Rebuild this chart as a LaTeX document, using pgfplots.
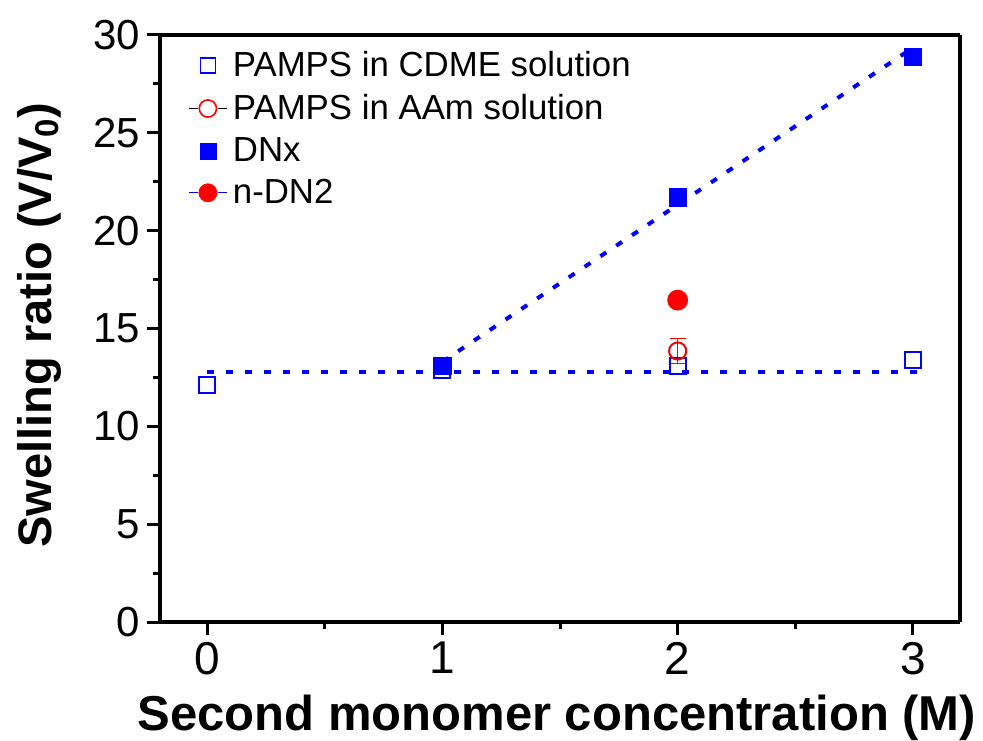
\documentclass[border=0pt]{standalone}
\usepackage{fontspec}
\setmainfont{Liberation Sans}
\usepackage{pgfplots}
\pgfplotsset{compat=1.18}
\begin{document}
\begin{tikzpicture}
\begin{axis}[
  width=400pt, height=293.5pt, scale only axis,
  xmin=-0.2, xmax=3.2, ymin=0, ymax=30,
  xtick={0,1,2,3}, ytick={0,5,...,30},
  minor x tick num=1, minor y tick num=1,
  xtick pos=bottom, ytick pos=left,
  tick align=outside,
  major tick length=6.5pt, minor tick length=3.5pt,
  separate axis lines,
  axis line style={line width=1.8pt},
  every tick/.style={black, line width=1.5pt},
  /pgf/number format/assume math mode=true,
  xticklabel style={font=\fontsize{23}{26}\selectfont},
  yticklabel style={font=\fontsize{21}{24}\selectfont},
  xlabel={\textbf{Second monomer concentration (M)}},
  ylabel={\textbf{Swelling ratio (V/V\textsubscript{0})}},
  xlabel style={font=\fontsize{24.5}{28}\selectfont, at={(axis description cs:0.496,-0.184)}, anchor=base},
  ylabel style={font=\fontsize{23.5}{28}\selectfont, at={(axis description cs:-0.136,0.506)}, anchor=base},
  legend style={draw=none, fill=none, at={(rel axis cs:0,1)}, anchor=north west,
    xshift=11pt, yshift=-4pt, font=\fontsize{17.4}{20}\selectfont,
    row sep=3.4pt, cells={anchor=west}},
]
% dashed guide lines
\addplot[blue, line width=2pt, dash pattern=on 3.5pt off 6pt, forget plot]
  coordinates {(0,12.78) (3.03,12.78)};
\addplot[blue, line width=2pt, dash pattern=on 3.5pt off 6pt, forget plot]
  coordinates {(1,13.3) (3,29.35)};

\addplot[only marks, blue, mark=square, mark size=4pt, line width=1pt,
  legend image code/.code={\path[draw=none, fill=none] (-0.5pt,-5pt) rectangle (19.5pt,5pt);
    \draw[mark=square, mark size=3.7pt, line width=0.8pt] plot coordinates {(9pt,0pt)};}]
  coordinates {(0,12.1) (1,12.9) (2,13.1) (3,13.4)};
\addlegendentry{PAMPS in CDME solution}

\addplot[only marks, red, mark=o, mark size=4.3pt, line width=1pt,
  legend image code/.code={\path[draw=none, fill=none] (-0.5pt,-5pt) rectangle (19.5pt,5pt);
    \draw[black, line width=0.5pt] (-0.5pt,0pt)--(4pt,0pt) (14pt,0pt)--(18.5pt,0pt);
    \draw[red, mark=o, mark size=4.3pt, line width=0.8pt] plot coordinates {(9pt,0pt)};},
  error bars/.cd, y dir=both, y explicit,
  error bar style={line width=0.7pt, red},
  error mark options={rotate=90, mark size=4pt, red, line width=0.7pt}]
  coordinates {(2,13.85) +- (0,0.65)};
\addlegendentry{PAMPS in AAm solution}

\addplot[only marks, blue, mark=square*, mark size=4.3pt,
  legend image code/.code={\path[draw=none, fill=none] (-0.5pt,-5pt) rectangle (19.5pt,5pt);
    \draw[mark=square*, mark size=4pt] plot coordinates {(9pt,0pt)};}]
  coordinates {(1,13.1) (2,21.7) (3,28.9)};
\addlegendentry{DNx}

\addplot[only marks, red, mark=*, mark size=5pt,
  legend image code/.code={\path[draw=none, fill=none] (-0.5pt,-5pt) rectangle (19.5pt,5pt);
    \draw[blue, line width=0.5pt] (-0.5pt,0pt)--(4pt,0pt) (14pt,0pt)--(18.5pt,0pt);
    \draw[red, mark=*, mark size=4.5pt] plot coordinates {(9pt,0pt)};}]
  coordinates {(2,16.45)};
\addlegendentry{n-DN2}
\end{axis}
\pgfresetboundingbox
\path[use as bounding box] (-80pt,-59pt) rectangle (411.5pt,311pt);
\end{tikzpicture}
\end{document}
